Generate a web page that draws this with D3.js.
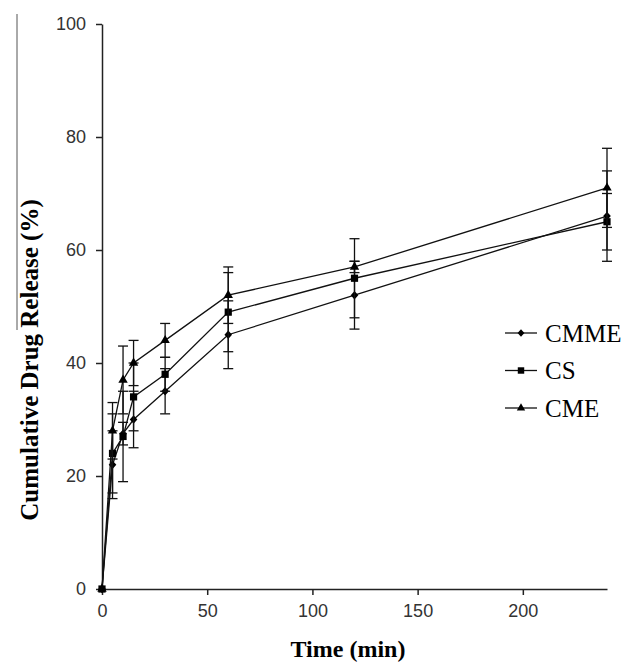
<!DOCTYPE html>
<html>
<head>
  <script type="text/javascript" src="https://cdn.jsdelivr.net/npm/d3@7"></script>
  <title>Cumulative Drug Release</title>
  <style>
    body { margin: 0; background: #fff; }
  </style>
</head>
<body>

<svg id="chart" width="623" height="662"></svg>

<script>
  // sampling times (min)
  var times = [0, 5, 10, 15, 30, 60, 120, 240];

  var seriesNames = ["CMME", "CS", "CME"];
  var cmmeValues = [0, 22, 27.5, 30, 35, 45, 52, 66];
  var cmmeSd     = [0, 6, 2, 5, 4, 6, 6, 8];
  var csValues   = [0, 24, 27, 34, 38, 49, 55, 65];
  var csSd       = [0, 7, 8, 6, 3, 7, 7, 5];
  var cmeValues  = [0, 28, 37, 40, 44, 52, 57, 71];
  var cmeSd      = [0, 5, 6, 4, 3, 5, 1, 7];

  var xTicks = [0, 50, 100, 150, 200];
  var yTicks = [0, 20, 40, 60, 80, 100];

  // diamond drawn as a square turned 45 degrees
  var diamond = {
    draw: function(context, size) {
      var r = Math.sqrt(size / 2);
      context.moveTo(0, -r);
      context.lineTo(r * 0.9, 0);
      context.lineTo(0, r);
      context.lineTo(-r * 0.9, 0);
      context.closePath();
    }
  };

  var series = [
    { name: seriesNames[0], values: cmmeValues, sd: cmmeSd, symbol: diamond, size: 36 },
    { name: seriesNames[1], values: csValues, sd: csSd, symbol: d3.symbolSquare, size: 52 },
    { name: seriesNames[2], values: cmeValues, sd: cmeSd, symbol: d3.symbolTriangle, size: 38 }
  ];

  var svg = d3.select("#chart");

  var x = d3.scaleLinear().domain([0, 240]).range([102, 607]);
  var y = d3.scaleLinear().domain([0, 100]).range([589, 24]);

  // stray border line from the original scan
  svg.append("line")
      .attr("x1", 17).attr("x2", 17)
      .attr("y1", 14).attr("y2", 330)
      .attr("stroke", "#555")
      .attr("stroke-width", 1);

  var xAxis = svg.append("g")
      .attr("transform", "translate(0," + y(0) + ")")
      .call(d3.axisBottom(x).tickValues(xTicks).tickSize(6).tickPadding(9).tickSizeOuter(0));

  var yAxis = svg.append("g")
      .attr("transform", "translate(" + x(0) + ",0)")
      .call(d3.axisLeft(y).tickValues(yTicks).tickSize(6).tickPadding(10).tickSizeOuter(0));

  [xAxis, yAxis].forEach(function(g) {
    g.selectAll("path, line").attr("stroke", "#222").attr("stroke-width", 1.5);
    g.selectAll("text")
        .attr("font-family", "Liberation Sans, Arial, sans-serif")
        .attr("font-size", 18)
        .attr("fill", "#333");
  });

  svg.append("text")
      .attr("x", 348)
      .attr("y", 657)
      .attr("text-anchor", "middle")
      .attr("font-family", "Liberation Serif, Times New Roman, serif")
      .attr("font-weight", "bold")
      .attr("font-size", 24)
      .text("Time (min)");

  svg.append("text")
      .attr("transform", "translate(38,360) rotate(-90)")
      .attr("text-anchor", "middle")
      .attr("font-family", "Liberation Serif, Times New Roman, serif")
      .attr("font-weight", "bold")
      .attr("font-size", 25)
      .text("Cumulative Drug Release (%)");

  var line = d3.line()
      .x(function(d, i) { return x(times[i]); })
      .y(function(d) { return y(d); });

  series.forEach(function(s) {
    var g = svg.append("g");

    g.append("path")
        .attr("d", line(s.values))
        .attr("fill", "none")
        .attr("stroke", "#111")
        .attr("stroke-width", 1.3);

    var bars = g.selectAll(".err")
        .data(s.values.map(function(v, i) { return { t: times[i], v: v, sd: s.sd[i] }; })
                      .filter(function(d) { return d.sd > 0; }))
        .enter().append("g");

    bars.append("line")
        .attr("x1", function(d) { return x(d.t); })
        .attr("x2", function(d) { return x(d.t); })
        .attr("y1", function(d) { return y(d.v - d.sd); })
        .attr("y2", function(d) { return y(d.v + d.sd); })
        .attr("stroke", "#111").attr("stroke-width", 1.3);

    [-1, 1].forEach(function(sign) {
      bars.append("line")
          .attr("x1", function(d) { return x(d.t) - 5; })
          .attr("x2", function(d) { return x(d.t) + 5; })
          .attr("y1", function(d) { return y(d.v + sign * d.sd); })
          .attr("y2", function(d) { return y(d.v + sign * d.sd); })
          .attr("stroke", "#111").attr("stroke-width", 1.3);
    });

    g.selectAll(".pt")
        .data(s.values)
        .enter().append("path")
        .attr("d", d3.symbol().type(s.symbol).size(s.size))
        .attr("transform", function(d, i) { return "translate(" + x(times[i]) + "," + y(d) + ")"; })
        .attr("fill", "#000");
  });

  // legend
  var legend = svg.append("g").attr("transform", "translate(505,333)");
  series.forEach(function(s, i) {
    var row = legend.append("g").attr("transform", "translate(0," + (i * 37.5) + ")");
    row.append("line")
        .attr("x1", 0).attr("x2", 32)
        .attr("stroke", "#111").attr("stroke-width", 1.3);
    row.append("path")
        .attr("d", d3.symbol().type(s.symbol).size(s.size * 0.8))
        .attr("transform", "translate(16,0)")
        .attr("fill", "#000");
    row.append("text")
        .attr("x", 40)
        .attr("y", 0)
        .attr("dy", "0.35em")
        .attr("font-family", "Liberation Serif, Times New Roman, serif")
        .attr("font-size", 25)
        .text(s.name);
  });
</script>

</body>
</html>
